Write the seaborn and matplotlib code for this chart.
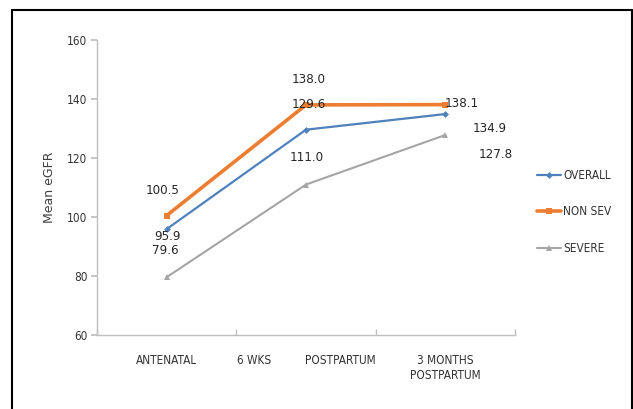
import matplotlib
matplotlib.use("Agg")
import matplotlib.pyplot as plt
import seaborn as sns
import pandas as pd
from matplotlib.lines import Line2D

categories = ["ANTENATAL", "6 WKS POSTPARTUM", "3 MONTHS POSTPARTUM"]
tick_labels = ["ANTENATAL", "6 WKS          POSTPARTUM", "3 MONTHS\nPOSTPARTUM"]
overall = [95.9, 129.6, 134.9]
non_sev = [100.5, 138.0, 138.1]
severe = [79.6, 111.0, 127.8]
series_names = ["OVERALL", "NON SEV", "SEVERE"]
y_ticks = [60, 80, 100, 120, 140, 160]

sns.set_theme(style="white")
plt.rcParams["font.family"] = ["DejaVu Sans"]
plt.rcParams["font.stretch"] = "condensed"

fig = plt.figure(figsize=(6.33, 4.09), dpi=100)
ax = fig.add_axes([97 / 633, 1 - 335 / 409, (515 - 97) / 633, (335 - 40) / 409])

styles = {
    "OVERALL": dict(color="#4F81BD", marker="D", markersize=3.5, linewidth=1.6),
    "NON SEV": dict(color="#ED7D31", marker="s", markersize=5, linewidth=2.6),
    "SEVERE": dict(color="#A5A5A5", marker="^", markersize=4, linewidth=1.5),
}
values = {"OVERALL": overall, "NON SEV": non_sev, "SEVERE": severe}

for name in series_names:
    df = pd.DataFrame({"x": list(range(len(categories))), "y": values[name]})
    st = styles[name]
    sns.lineplot(data=df, x="x", y="y", ax=ax, color=st["color"], marker=st["marker"],
                 markersize=st["markersize"], linewidth=st["linewidth"],
                 markeredgewidth=0, label=name)

# data labels (offsets in image pixels, y down)
offsets = {
    "NON SEV": [(-4, -25), (3, -25), (16, -1)],
    "OVERALL": [(1, 7), (3, -25), (44, 14)],
    "SEVERE": [(-1, -27), (1, -27), (50, 20)],
}
for name in ["SEVERE", "OVERALL", "NON SEV"]:
    for i, v in enumerate(values[name]):
        dx, dy = offsets[name][i]
        ax.annotate(f"{v:.1f}", (i, v), xytext=(dx, -dy), textcoords="offset pixels",
                    ha="center", va="center", fontsize=9.5, color="#262626", zorder=5)

ax.set_xlim(-0.5, 2.5)
ax.set_ylim(60, 160)
ax.set_yticks(y_ticks)
ax.set_yticklabels([str(t) for t in y_ticks])
ax.set_xticks(range(len(categories)))
ax.set_xticklabels(tick_labels)
ax.set_xticks([-0.5, 0.5, 1.5, 2.5], minor=True)
ax.tick_params(axis="x", which="major", length=0, pad=14, labelsize=8.5, colors="#333333")
ax.tick_params(axis="x", which="minor", length=4, direction="in", color="#BFBFBF", bottom=True)
ax.tick_params(axis="y", length=4, direction="out", color="#BFBFBF", labelsize=8.5,
               colors="#333333", left=True, pad=3)
ax.set_xlabel("")
ax.set_ylabel("Mean eGFR", fontsize=9, fontstretch="normal", color="#404040", labelpad=8)

for s in ["top", "right"]:
    ax.spines[s].set_visible(False)
for s in ["left", "bottom"]:
    ax.spines[s].set_color("#BFBFBF")
    ax.spines[s].set_linewidth(1)

ax.legend(loc="center left", bbox_to_anchor=(531 / 633, 1 - 212 / 409),
          bbox_transform=fig.transFigure, frameon=False, fontsize=8.5,
          handlelength=2.0, handletextpad=0.2, labelspacing=2.0, borderpad=0,
          labelcolor="#333333")

# outer frame
lx, ty, rx = 12 / 633, 1 - 10 / 409, 632 / 633
fig.add_artist(Line2D([lx, lx], [0, ty], color="black", linewidth=1.5, transform=fig.transFigure))
fig.add_artist(Line2D([lx, rx], [ty, ty], color="black", linewidth=1.5, transform=fig.transFigure))
fig.add_artist(Line2D([rx, rx], [0, ty], color="black", linewidth=1.5, transform=fig.transFigure))

fig.savefig("out.png", dpi=100)
